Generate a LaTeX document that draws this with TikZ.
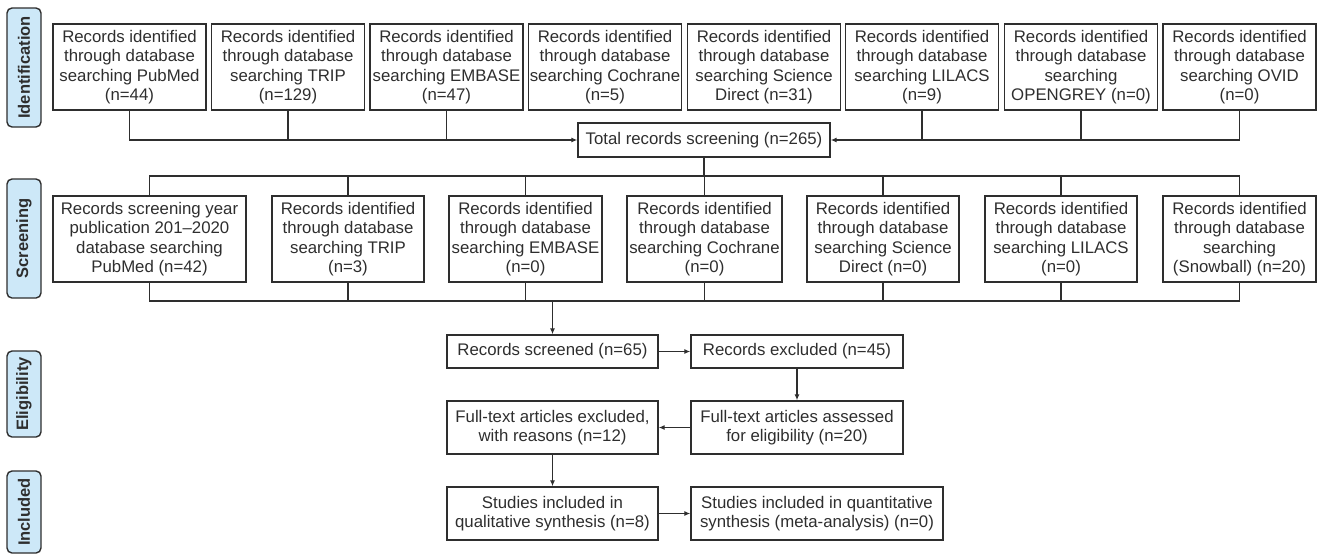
\documentclass[tikz,border=0pt]{standalone}
\usepackage{fontspec}
\setmainfont{Liberation Sans}
\usetikzlibrary{arrows.meta}
\definecolor{ink}{HTML}{2E2E2E}
\definecolor{labelblue}{HTML}{CDE8F8}
\begin{document}
\begin{tikzpicture}[x=1pt,y=-1pt,
  every node/.style={text=ink},
  box/.style={draw=ink,line width=1.4pt,align=center,inner sep=0pt,
    font=\fontsize{16.8}{19.5}\selectfont},
  tall/.style={box,minimum width=153pt,minimum height=86pt},
  phase/.style={draw=ink,line width=1.4pt,fill=labelblue,rounded corners=5pt,
    rotate=90,minimum height=34pt,inner sep=0pt,
    font=\fontsize{16.5}{19}\selectfont\bfseries},
  conn/.style={draw=ink,line width=1.4pt},
  arr/.style={conn,-{Latex[length=6pt,width=5pt]}}]
\useasboundingbox (0,0) rectangle (1321,555);

% phase labels
\node[phase,minimum width=119pt] (L1) at (24,67.5) {Identification};
\node[phase,minimum width=119pt] (L2) at (24,238.5) {Screening};
\node[phase,minimum width=86pt] (L3) at (24,394) {Eligibility};
\node[phase,minimum width=82pt] (L4) at (24,512) {Included};

% top row
\node[tall] (t1) at (129.5,67) {Records identified\\through database\\searching PubMed\\(n=44)};
\node[tall] (t2) at (288,67) {Records identified\\through database\\searching TRIP\\(n=129)};
\node[tall] (t3) at (446.5,67) {Records identified\\through database\\searching EMBASE\\(n=47)};
\node[tall] (t4) at (605,67) {Records identified\\through database\\searching Cochrane\\(n=5)};
\node[tall] (t5) at (764,67) {Records identified\\through database\\searching Science\\Direct (n=31)};
\node[tall] (t6) at (922,67) {Records identified\\through database\\searching LILACS\\(n=9)};
\node[tall] (t7) at (1081,67) {Records identified\\through database\\searching\\OPENGREY (n=0)};
\node[tall] (t8) at (1239.5,67) {Records identified\\through database\\searching OVID\\(n=0)};

\node[box,minimum width=252pt,minimum height=34pt] (total) at (704,140) {Total records screening (n=265)};

% second row
\node[tall,minimum width=193pt] (s1) at (149.5,239) {Records screening year\\publication 201–2020\\database searching\\PubMed (n=42)};
\node[tall,minimum width=152pt] (s2) at (348,239) {Records identified\\through database\\searching TRIP\\(n=3)};
\node[tall] (s3) at (525.5,239) {Records identified\\through database\\searching EMBASE\\(n=0)};
\node[tall,minimum width=155pt] (s4) at (704.5,239) {Records identified\\through database\\searching Cochrane\\(n=0)};
\node[tall,minimum width=152pt] (s5) at (883,239) {Records identified\\through database\\searching Science\\Direct (n=0)};
\node[tall,minimum width=152pt] (s6) at (1061,239) {Records identified\\through database\\searching LILACS\\(n=0)};
\node[tall] (s7) at (1239.5,239) {Records identified\\through database\\searching\\(Snowball) (n=20)};

% lower flow
\node[box,minimum width=211pt,minimum height=33pt] (scr) at (552.5,351.5) {Records screened (n=65)};
\node[box,minimum width=212pt,minimum height=33pt] (exc) at (797,351.5) {Records excluded (n=45)};
\node[box,minimum width=212pt,minimum height=53pt] (fta) at (797,427.5) {Full-text articles assessed\\for eligibility (n=20)};
\node[box,minimum width=211pt,minimum height=53pt] (fte) at (552.5,427.5) {Full-text articles excluded,\\with reasons (n=12)};
\node[box,minimum width=211pt,minimum height=53pt] (qual) at (552.5,513.5) {Studies included in\\qualitative synthesis (n=8)};
\node[box,minimum width=252pt,minimum height=53pt] (quan) at (817,513.5) {Studies included in quantitative\\synthesis (meta-analysis) (n=0)};

% connectors top
\draw[arr] (t1.south) |- (total.west);
\foreach \n in {t2,t3} \draw[conn] (\n.south) -- (\n.south |- total.west);
\draw[arr] (t8.south) |- (total.east);
\foreach \n in {t6,t7} \draw[conn] (\n.south) -- (\n.south |- total.east);

% bus to second row
\coordinate (busA) at (704,176);
\draw[conn] (total.south) -- (busA);
\draw[conn] (s1.north) -- (s1.north |- busA) -| (s7.north);
\foreach \n in {s2,s3,s4,s5,s6} \draw[conn] (\n.north) -- (\n.north |- busA);

% bus below second row
\coordinate (busB) at (704,301);
\draw[conn] (s1.south) -- (s1.south |- busB) -| (s7.south);
\foreach \n in {s2,s3,s4,s5,s6} \draw[conn] (\n.south) -- (\n.south |- busB);
\draw[arr] (scr.north |- busB) -- (scr.north);

% lower flow arrows
\draw[arr] (scr.east) -- (exc.west);
\draw[arr] (exc.south) -- (fta.north);
\draw[arr] (fta.west) -- (fte.east);
\draw[arr] (fte.south) -- (qual.north);
\draw[arr] (qual.east) -- (quan.west);
\end{tikzpicture}
\end{document}
